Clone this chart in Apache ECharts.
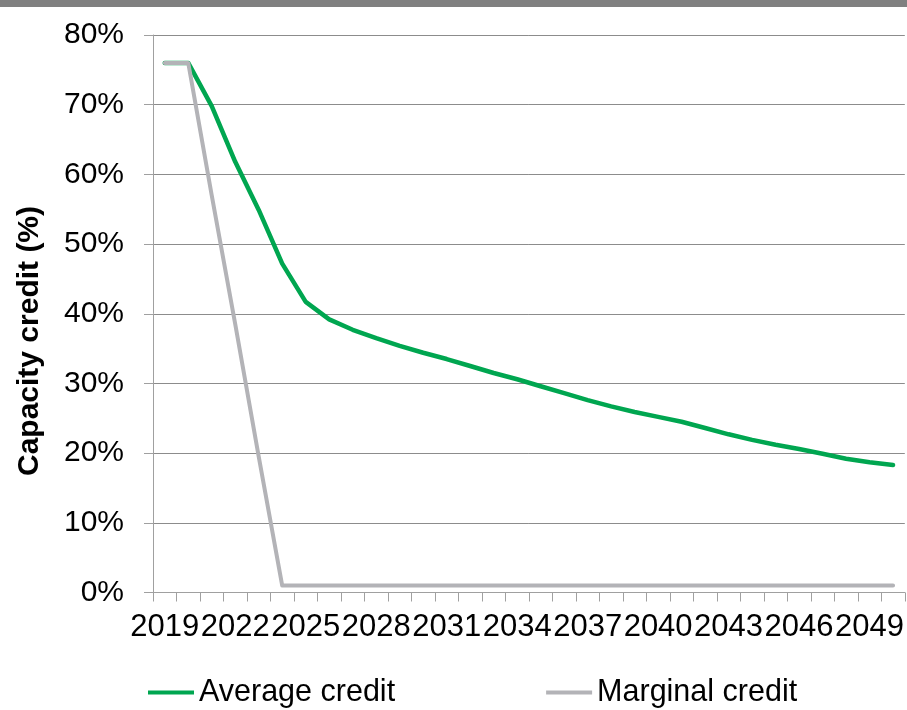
<!DOCTYPE html>
<html>
<head>
<meta charset="utf-8">
<script src="https://cdn.jsdelivr.net/npm/echarts@6/dist/echarts.min.js"></script>
<style>
  html, body { margin: 0; padding: 0; background: #ffffff; }
  #chart { width: 907px; height: 710px; }
</style>
</head>
<body>
<div id="chart"></div>
<script>
// Years on the category axis
const years = [];
for (let y = 2019; y <= 2050; y++) years.push(String(y));

// Capacity credit, percent
const averageCredit = [
  76, 76, 69.8, 61.8, 54.9, 47.2, 41.7, 39.2, 37.7, 36.5,
  35.4, 34.4, 33.5, 32.5, 31.5, 30.6, 29.6, 28.6, 27.6, 26.7,
  25.9, 25.2, 24.5, 23.6, 22.7, 21.9, 21.2, 20.6, 19.9, 19.2,
  18.7, 18.3
];
const marginalCredit = [
  76, 76, 57, 38.5, 19.5, 1, 1, 1, 1, 1,
  1, 1, 1, 1, 1, 1, 1, 1, 1, 1,
  1, 1, 1, 1, 1, 1, 1, 1, 1, 1,
  1, 1
];
const seriesNames = ['Average credit', 'Marginal credit'];
const yAxisTitle = 'Capacity credit (%)';

const FONT = '"Liberation Sans", Arial, sans-serif';
const chart = echarts.init(document.getElementById('chart'), null, { renderer: 'canvas' });

chart.setOption({
  animation: false,
  backgroundColor: '#ffffff',
  graphic: [
    { type: 'rect', left: 0, top: 0, shape: { width: 907, height: 7 }, style: { fill: '#808080' } },
    {
      type: 'text', x: 30, y: 341, rotation: Math.PI / 2,
      style: {
        text: yAxisTitle, font: 'bold 30px ' + FONT, fill: '#000000',
        align: 'center', verticalAlign: 'middle'
      }
    }
  ],
  grid: { left: 153, right: -1, top: 35, bottom: 117.5, containLabel: false },
  legend: {
    left: 143, top: 672, itemGap: 151, itemWidth: 46, itemHeight: 4,
    icon: 'rect',
    textStyle: { fontFamily: FONT, fontSize: 30.5, color: '#000000' },
    data: seriesNames
  },
  xAxis: {
    type: 'category', data: years, boundaryGap: true,
    axisLine: { show: true, lineStyle: { color: '#a0a0a0', width: 1 } },
    axisTick: { show: true, interval: 0, length: 9, lineStyle: { color: '#a0a0a0' } },
    axisLabel: { interval: 2, margin: 19, fontFamily: FONT, fontSize: 31, color: '#000000' },
    splitLine: { show: false }
  },
  yAxis: {
    type: 'value', min: 0, max: 80, interval: 10,
    axisLine: { show: true, lineStyle: { color: '#a0a0a0', width: 1 } },
    axisTick: { show: true, length: 9, lineStyle: { color: '#a0a0a0' } },
    axisLabel: { formatter: '{value}%', margin: 29, fontFamily: FONT, fontSize: 30, color: '#000000' },
    splitLine: { show: true, lineStyle: { color: '#8c8c8c', width: 1 } }
  },
  series: [
    {
      name: seriesNames[0], type: 'line', data: averageCredit, symbol: 'none',
      itemStyle: { color: '#00a650' },
      lineStyle: { color: '#00a650', width: 4.5, cap: 'round', join: 'round' }
    },
    {
      name: seriesNames[1], type: 'line', data: marginalCredit, symbol: 'none',
      itemStyle: { color: '#b3b3b7' },
      lineStyle: { color: '#b3b3b7', width: 4, cap: 'round', join: 'round' }
    }
  ]
});
</script>
</body>
</html>
